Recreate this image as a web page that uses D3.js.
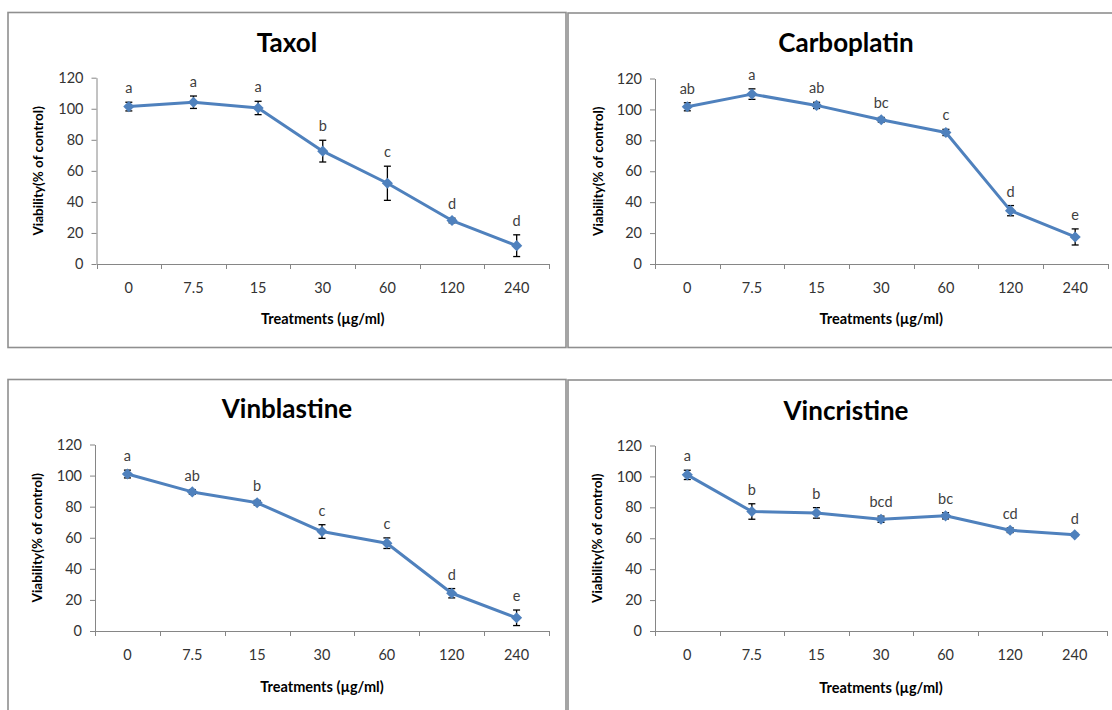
<!DOCTYPE html>
<html>
<head>
<meta charset="utf-8">
<script src="https://cdn.jsdelivr.net/npm/d3@7"></script>
<style>
  body { margin: 0; background: #fff; }
  svg { display: block; }
  text { font-family: Lato, "Open Sans", sans-serif; }
</style>
</head>
<body>
<div id="root"></div>
<script>
// Categories and axis ticks
const doses = ['0', '7.5', '15', '30', '60', '120', '240'];
const yTicks = [0, 20, 40, 60, 80, 100, 120];

// Taxol
const taxolMean = [101.4, 104.2, 100.5, 72.7, 52, 28, 11.8];
const taxolErr = [2.8, 4, 4.3, 7, 11, 1.5, 7];
const taxolLetters = ['a', 'a', 'a', 'b', 'c', 'd', 'd'];

// Carboplatin
const carboMean = [101.7, 109.9, 102.6, 93.3, 85.1, 34.5, 17.5];
const carboErr = [2.6, 3.4, 2, 1.5, 2, 3.3, 5.2];
const carboLetters = ['ab', 'a', 'ab', 'bc', 'c', 'd', 'e'];

// Vinblastine
const vinblMean = [101, 89.5, 82.5, 64, 56.5, 24.3, 8.5];
const vinblErr = [2.5, 1.5, 1.5, 4.4, 3.4, 3, 5];
const vinblLetters = ['a', 'ab', 'b', 'c', 'c', 'd', 'e'];

// Vincristine
const vincrMean = [101, 77.3, 76.4, 72.3, 74.5, 65.2, 62.2];
const vincrErr = [3, 5, 3.4, 2, 2, 1.5, 1];
const vincrLetters = ['a', 'b', 'b', 'bcd', 'bc', 'cd', 'd'];

// Layout of the four chart boxes
const panels = [
  { title: 'Taxol', mean: taxolMean, err: taxolErr, letters: taxolLetters,
    box: [8, 12.5, 566, 347.5], left: 96.5, right: 549, top: 77.7, bottom: 264,
    titleX: 287, titleY: 43, yTitleX: 38.5, xTitleY: 319 },
  { title: 'Carboplatin', mean: carboMean, err: carboErr, letters: carboLetters,
    box: [568, 13, 1115, 347.5], left: 655, right: 1107.5, top: 78.5, bottom: 264,
    titleX: 846, titleY: 43, yTitleX: 598, xTitleY: 319 },
  { title: 'Vinblastine', mean: vinblMean, err: vinblErr, letters: vinblLetters,
    box: [8, 379.5, 566, 715], left: 95, right: 549, top: 444.5, bottom: 631,
    titleX: 287, titleY: 409, yTitleX: 37.5, xTitleY: 687 },
  { title: 'Vincristine', mean: vincrMean, err: vincrErr, letters: vincrLetters,
    box: [568, 380, 1115, 715], left: 655, right: 1107, top: 445.5, bottom: 631,
    titleX: 846, titleY: 410.5, yTitleX: 597, xTitleY: 688 }
];

const svg = d3.select('#root')
  .append('svg')
  .attr('width', 1112)
  .attr('height', 710);

const blue = '#4f81bd';
const axisGrey = '#868686';

const drawPanel = (p) => {
  const [bx0, by0, bx1, by1] = p.box;
  svg.append('rect')
    .attr('x', bx0).attr('y', by0)
    .attr('width', bx1 - bx0).attr('height', by1 - by0)
    .attr('fill', 'none')
    .attr('stroke', '#8f8f8f')
    .attr('stroke-width', 1.6);

  const x = d3.scaleBand().domain(doses).range([p.left, p.right]);
  const y = d3.scaleLinear().domain([0, 120]).range([p.bottom, p.top]);
  const cx = d => x(d) + x.bandwidth() / 2;

  // Y axis
  const yAxis = svg.append('g')
    .attr('transform', `translate(${p.left},0)`)
    .call(d3.axisLeft(y).tickValues(yTicks).tickSize(5).tickSizeOuter(0).tickPadding(8));
  yAxis.selectAll('path, line').attr('stroke', axisGrey);
  yAxis.selectAll('text').attr('font-size', 14.5).attr('fill', '#333');

  // X axis (labels centred in categories, ticks between categories)
  const xAxis = svg.append('g')
    .attr('transform', `translate(0,${p.bottom})`)
    .call(d3.axisBottom(x).tickSize(0).tickSizeOuter(0).tickPadding(19));
  xAxis.select('.domain').attr('stroke', axisGrey);
  xAxis.selectAll('text').attr('font-size', 14.5).attr('fill', '#333');
  xAxis.selectAll('.between')
    .data(d3.range(doses.length + 1))
    .join('line')
    .attr('class', 'between')
    .attr('x1', i => Math.round(p.left + i * x.step()) + 0.5)
    .attr('x2', i => Math.round(p.left + i * x.step()) + 0.5)
    .attr('y1', 0).attr('y2', 5)
    .attr('stroke', axisGrey);

  const pts = doses.map((d, i) => ({ dose: d, v: p.mean[i], e: p.err[i], l: p.letters[i] }));

  // Error bars
  const eb = svg.append('g').attr('stroke', '#000').attr('stroke-width', 1.3);
  pts.forEach(d => {
    const xc = cx(d.dose);
    eb.append('line').attr('x1', xc).attr('x2', xc)
      .attr('y1', y(d.v - d.e)).attr('y2', y(d.v + d.e));
    [d.v - d.e, d.v + d.e].forEach(v => {
      eb.append('line').attr('x1', xc - 3.5).attr('x2', xc + 3.5)
        .attr('y1', y(v)).attr('y2', y(v));
    });
  });

  // Series line
  svg.append('path')
    .datum(pts)
    .attr('fill', 'none')
    .attr('stroke', blue)
    .attr('stroke-width', 3)
    .attr('stroke-linejoin', 'round')
    .attr('d', d3.line().x(d => cx(d.dose)).y(d => y(d.v)));

  // Diamond markers
  svg.append('g').selectAll('path')
    .data(pts)
    .join('path')
    .attr('d', d3.symbol(d3.symbolSquare, 62))
    .attr('transform', d => `translate(${cx(d.dose)},${y(d.v)}) rotate(45)`)
    .attr('fill', blue);

  // Significance letters
  svg.append('g').selectAll('text')
    .data(pts)
    .join('text')
    .attr('x', d => cx(d.dose))
    .attr('y', d => y(d.v + d.e) - 9)
    .attr('text-anchor', 'middle')
    .attr('font-size', 14.5)
    .attr('fill', '#404040')
    .text(d => d.l);

  // Titles
  svg.append('text')
    .attr('x', p.titleX).attr('y', p.titleY)
    .attr('dy', '0.36em')
    .attr('text-anchor', 'middle')
    .attr('font-size', 26)
    .attr('font-weight', 'bold')
    .attr('fill', '#000')
    .text(p.title);

  svg.append('text')
    .attr('transform', `translate(${p.yTitleX},${(p.top + p.bottom) / 2}) rotate(-90)`)
    .attr('dy', '0.36em')
    .attr('text-anchor', 'middle')
    .attr('font-size', 13.5)
    .attr('font-weight', 'bold')
    .attr('fill', '#000')
    .text('Viability(% of control)');

  svg.append('text')
    .attr('x', (p.left + p.right) / 2).attr('y', p.xTitleY)
    .attr('dy', '0.36em')
    .attr('text-anchor', 'middle')
    .attr('font-size', 14.5)
    .attr('font-weight', 'bold')
    .attr('fill', '#000')
    .text('Treatments (µg/ml)');
};

panels.forEach(p => drawPanel(p));
</script>
</body>
</html>
